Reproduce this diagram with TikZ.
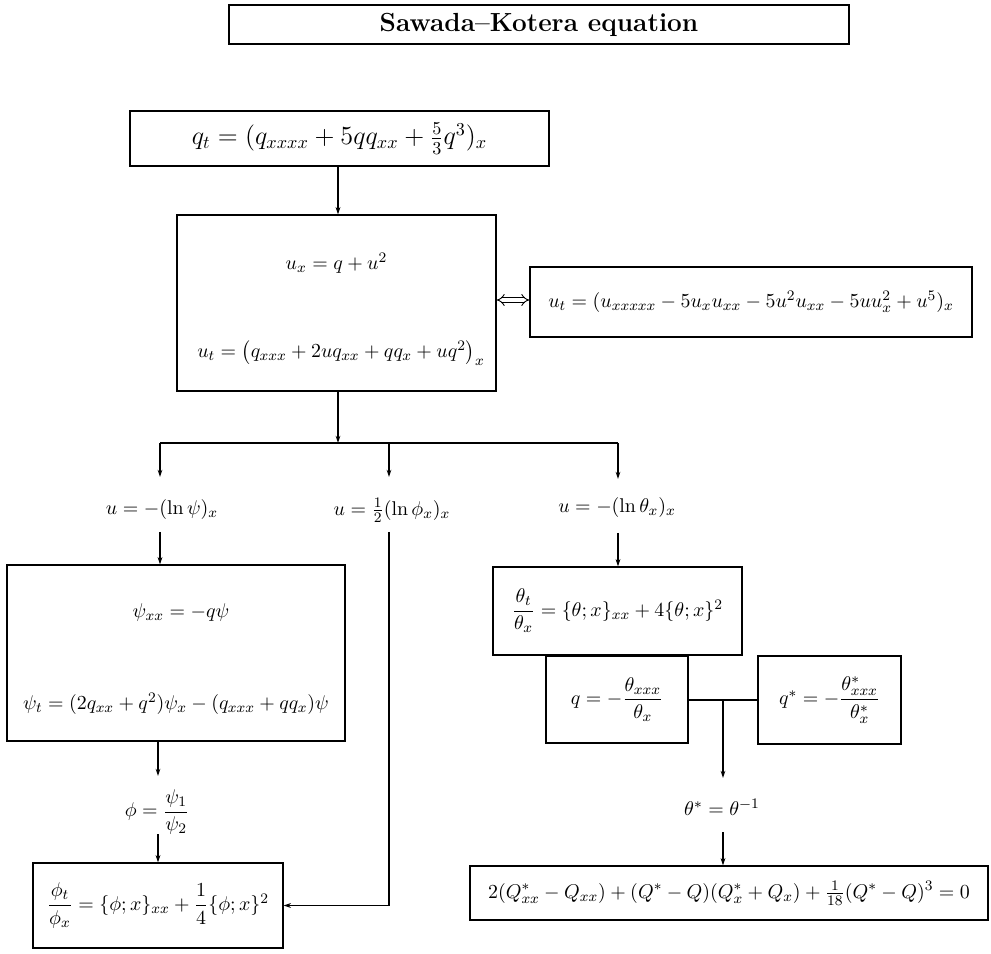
\documentclass[tikz,border=0pt]{standalone}
\usepackage{amsmath}
\usetikzlibrary{arrows.meta}
\begin{document}
\begin{tikzpicture}[x=0.55pt,y=-0.55pt,
  every node/.style={font=\fontsize{10.95}{13.5}\selectfont},
  box/.style 2 args={draw,line width=0.7pt,inner sep=0pt,minimum width=#1*0.55pt,minimum height=#2*0.55pt},
  lbl/.style={inner sep=0pt},
  arr/.style={line width=0.6pt,-{Stealth[length=4pt,width=2.6pt]}},
  ln/.style={line width=0.6pt}]
\useasboundingbox (0,0) rectangle (991,954);
% title
\node[box={620}{39},line width=0.9pt,font=\fontsize{14.4}{18}\selectfont\bfseries] (title) at (539,24.5) {Sawada--Kotera equation};
% top equation
\node[box={419}{55},font=\fontsize{14.4}{17}\selectfont] (qt) at (339.5,138.5) {$q_t=(q_{xxxx}+5qq_{xx}+\frac{5}{3}q^3)_x$};
% box 2
\node[box={319}{176}] (b2) at (336.5,303) {};
\node[lbl] (b2a) at (336.5,263) {$u_x=q+u^2$};
\node[lbl] (b2b) at (341,353) {$u_t=\left(q_{xxx}+2uq_{xx}+qq_x+uq^2\right)_x$};
% box 3
\node[box={442}{70}] (b3) at (751,302) {$u_t=(u_{xxxxx}-5u_xu_{xx}-5u^2u_{xx}-5uu_x^2+u^5)_x$};
\draw[line width=0.5pt,double,double distance=1.8pt,{Implies[length=3pt]}-{Implies[length=3pt]}] (b2.east |- 0,300) -- (b3.west |- 0,300);
% branches
\coordinate (br) at (338,443);
\coordinate (brl) at (160,443);
\coordinate (brm) at (389,443);
\coordinate (brr) at (618,443);
\draw[arr] (qt.south -| br) -- (b2.north -| br);
\draw[arr] (b2.south -| br) -- (br);
\draw[ln] (brl) -- (brr);
\node[lbl] (L1) at (162,510) {$u=-(\ln\psi)_x$};
\node[lbl] (L2) at (392,510) {$u=\frac{1}{2}(\ln\phi_x)_x$};
\node[lbl] (L3) at (617,508) {$u=-(\ln\theta_x)_x$};
\coordinate (a1) at (160,477);
\coordinate (a2) at (389,477);
\coordinate (a3) at (618,479);
\draw[arr] (brl) -- (a1);
\draw[arr] (brm) -- (a2);
\draw[arr] (brr) -- (a3);
% psi box
\node[box={338}{176}] (psi) at (176,653) {};
\node[lbl] (psia) at (181,613) {$\psi_{xx}=-q\psi$};
\node[lbl] (psib) at (176,704) {$\psi_t=(2q_{xx}+q^2)\psi_x-(q_{xxx}+qq_x)\psi$};
\coordinate (s1) at (160,532);
\draw[arr] (s1) -- (s1 |- psi.north);
\node[lbl] (phiL) at (157,812) {$\phi=\dfrac{\psi_1}{\psi_2}$};
\coordinate (p1) at (158,741);
\coordinate (p2) at (158,776);
\coordinate (p3) at (158,834);
\draw[arr] (p1) -- (p2);
% phi box
\node[box={250}{85}] (phi) at (158,905.5) {$\dfrac{\phi_t}{\phi_x}=\{\phi;x\}_{xx}+\dfrac{1}{4}\{\phi;x\}^2$};
\draw[arr] (p3) -- (p3 |- phi.north);
\coordinate (s2) at (389,532);
\draw[arr] (s2) |- (phi.east);
% theta side
\node[box={249}{88}] (th) at (617.5,611) {$\dfrac{\theta_t}{\theta_x}=\{\theta;x\}_{xx}+4\{\theta;x\}^2$};
\coordinate (s3) at (618,533);
\draw[arr] (s3) -- (s3 |- th.north);
\node[box={142}{87}] (qb) at (617,699.5) {$q=-\dfrac{\theta_{xxx}}{\theta_x}$};
\node[box={143}{88}] (qs) at (829.5,700) {$q^*=-\dfrac{\theta^*_{xxx}}{\theta^*_x}$};
\coordinate (j) at (723,700);
\draw[ln] (qb.east |- j) -- (qs.west |- j);
\coordinate (j2) at (723,778);
\draw[arr] (j) -- (j2);
\node[lbl] (ts) at (722,807) {$\theta^*=\theta^{-1}$};
\coordinate (j3) at (723,832);
\node[box={518}{54}] (fin) at (729,893) {$2(Q^*_{xx}-Q_{xx})+(Q^*-Q)(Q^*_x+Q_x)+\frac{1}{18}(Q^*-Q)^3=0$};
\draw[arr] (j3) -- (j3 |- fin.north);
\end{tikzpicture}
\end{document}
